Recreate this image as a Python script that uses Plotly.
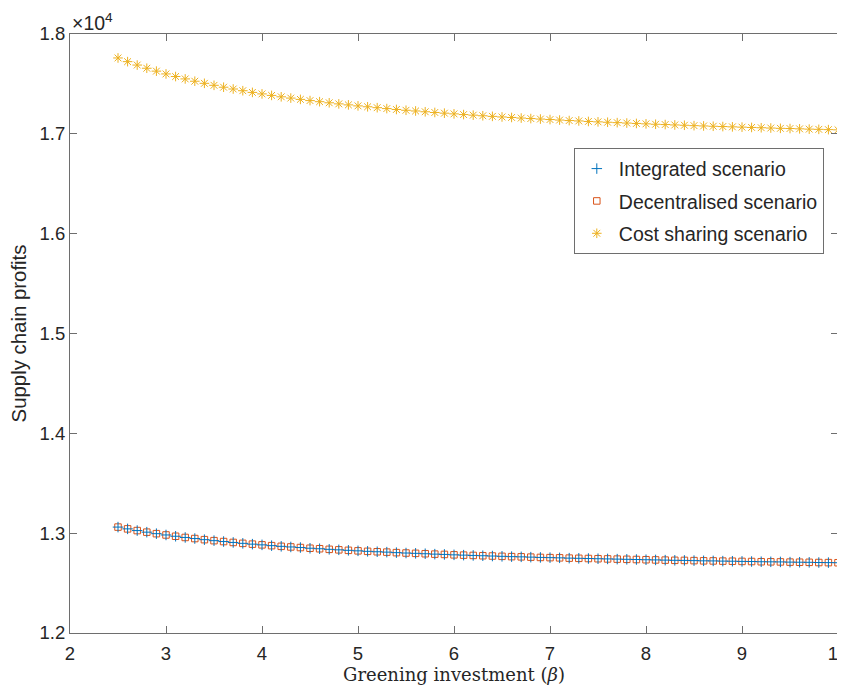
import plotly.graph_objects as go

beta = [2.5, 2.6, 2.7, 2.8, 2.9, 3.0, 3.1, 3.2, 3.3, 3.4, 3.5, 3.6, 3.7, 3.8, 3.9,
        4.0, 4.1, 4.2, 4.3, 4.4, 4.5, 4.6, 4.7, 4.8, 4.9, 5.0, 5.1, 5.2, 5.3, 5.4,
        5.5, 5.6, 5.7, 5.8, 5.9, 6.0, 6.1, 6.2, 6.3, 6.4, 6.5, 6.6, 6.7, 6.8, 6.9,
        7.0, 7.1, 7.2, 7.3, 7.4, 7.5, 7.6, 7.7, 7.8, 7.9, 8.0, 8.1, 8.2, 8.3, 8.4,
        8.5, 8.6, 8.7, 8.8, 8.9, 9.0, 9.1, 9.2, 9.3, 9.4, 9.5, 9.6, 9.7, 9.8, 9.9, 10.0]

integrated = [13061, 13043, 13026, 13010, 12995, 12982, 12969, 12957, 12946, 12935,
              12925, 12916, 12907, 12898, 12890, 12883, 12875, 12868, 12862, 12856,
              12849, 12844, 12838, 12833, 12828, 12823, 12818, 12814, 12810, 12805,
              12801, 12798, 12794, 12790, 12787, 12783, 12780, 12777, 12774, 12771,
              12768, 12765, 12763, 12760, 12757, 12755, 12753, 12750, 12748, 12746,
              12744, 12742, 12740, 12738, 12736, 12734, 12732, 12730, 12728, 12727,
              12725, 12723, 12722, 12720, 12719, 12717, 12716, 12714, 12713, 12712,
              12710, 12709, 12708, 12706, 12705, 12704]

decentralised = [13061, 13043, 13026, 13010, 12995, 12982, 12969, 12957, 12946, 12935,
                 12925, 12916, 12907, 12898, 12890, 12883, 12875, 12868, 12862, 12856,
                 12849, 12844, 12838, 12833, 12828, 12823, 12818, 12814, 12810, 12805,
                 12801, 12798, 12794, 12790, 12787, 12783, 12780, 12777, 12774, 12771,
                 12768, 12765, 12763, 12760, 12757, 12755, 12753, 12750, 12748, 12746,
                 12744, 12742, 12740, 12738, 12736, 12734, 12732, 12730, 12728, 12727,
                 12725, 12723, 12722, 12720, 12719, 12717, 12716, 12714, 12713, 12712,
                 12710, 12709, 12708, 12706, 12705, 12704]

cost_sharing = [17760, 17723, 17689, 17657, 17628, 17600, 17574, 17550, 17527, 17506,
                17486, 17467, 17449, 17432, 17415, 17400, 17385, 17371, 17358, 17345,
                17333, 17322, 17311, 17300, 17290, 17280, 17271, 17262, 17253, 17244,
                17236, 17229, 17221, 17214, 17207, 17200, 17193, 17187, 17181, 17175,
                17169, 17164, 17158, 17153, 17148, 17143, 17138, 17133, 17129, 17124,
                17120, 17116, 17112, 17108, 17104, 17100, 17096, 17093, 17089, 17086,
                17082, 17079, 17076, 17073, 17070, 17067, 17064, 17061, 17058, 17055,
                17053, 17050, 17047, 17045, 17042, 17040]

x_ticks = [2, 3, 4, 5, 6, 7, 8, 9, 10]
y_ticks = [12000, 13000, 14000, 15000, 16000, 17000, 18000]
y_ticklabels = ["1.2", "1.3", "1.4", "1.5", "1.6", "1.7", "1.8"]

AX = "#6e6e6e"
TXT = "#262626"
FONT = "Liberation Sans, Arial, sans-serif"

fig = go.Figure()
fig.add_trace(go.Scatter(x=beta, y=decentralised, mode="markers", name="Decentralised scenario",
                         legendgroup="b",
                         marker=dict(symbol="square-open", size=6.5, color="#D95319", line=dict(width=1)),
                         cliponaxis=False, legendrank=2))
fig.add_trace(go.Scatter(x=beta, y=integrated, mode="markers", name="Integrated scenario",
                         legendgroup="a",
                         marker=dict(symbol="cross-thin-open", size=7.5, color="#0072BD", line=dict(width=1, color="#0072BD")),
                         cliponaxis=False, legendrank=1))
fig.add_trace(go.Scatter(x=beta, y=cost_sharing, mode="markers", name="Cost sharing scenario",
                         legendgroup="c",
                         marker=dict(symbol="asterisk-open", size=8, color="#EDB120", line=dict(width=1, color="#EDB120")),
                         cliponaxis=False, legendrank=3))

fig.update_layout(
    width=837, height=682,
    margin=dict(l=62, r=7, t=26, b=57, autoexpand=False),
    plot_bgcolor="white", paper_bgcolor="white",
    font=dict(family=FONT, size=18.5, color=TXT),
    xaxis=dict(range=[2, 10], tickvals=x_ticks, ticks="inside", ticklen=7, tickcolor=AX,
               showline=True, linecolor=AX, linewidth=1, mirror="ticks", showgrid=False, zeroline=False,
               tickfont=dict(size=18.5, color=TXT), ticklabeloverflow="allow", automargin=False,
               ticklabelstandoff=4,
               title=dict(text="Greening investment (<i>β</i>)", standoff=4,
                          font=dict(family="DejaVu Serif, Liberation Serif, serif", size=18, color=TXT))),
    yaxis=dict(range=[12000, 18000], tickvals=y_ticks, ticktext=y_ticklabels, ticks="inside", ticklen=7,
               tickcolor=AX, showline=True, linecolor=AX, linewidth=1, mirror="ticks", showgrid=False,
               zeroline=False, tickfont=dict(size=18.5, color=TXT), automargin=False,
               ticklabeloverflow="allow",
               title=dict(text="Supply chain profits", standoff=8, font=dict(size=20.4, color=TXT))),
    legend=dict(x=0.656, y=0.809, xanchor="left", yanchor="top", bgcolor="white",
                bordercolor=AX, borderwidth=1, font=dict(size=19.5, color=TXT),
                itemsizing="trace", traceorder="grouped", tracegroupgap=4, itemwidth=34,
                entrywidth=214, entrywidthmode="pixels"),
    showlegend=True,
    annotations=[dict(text="×10<sup>4</sup>", x=0, y=1, xref="paper", yref="paper",
                      xanchor="left", yanchor="bottom", showarrow=False,
                      font=dict(size=19.5, color=TXT), yshift=-2, xshift=0)],
)

fig.write_html("out.html")
